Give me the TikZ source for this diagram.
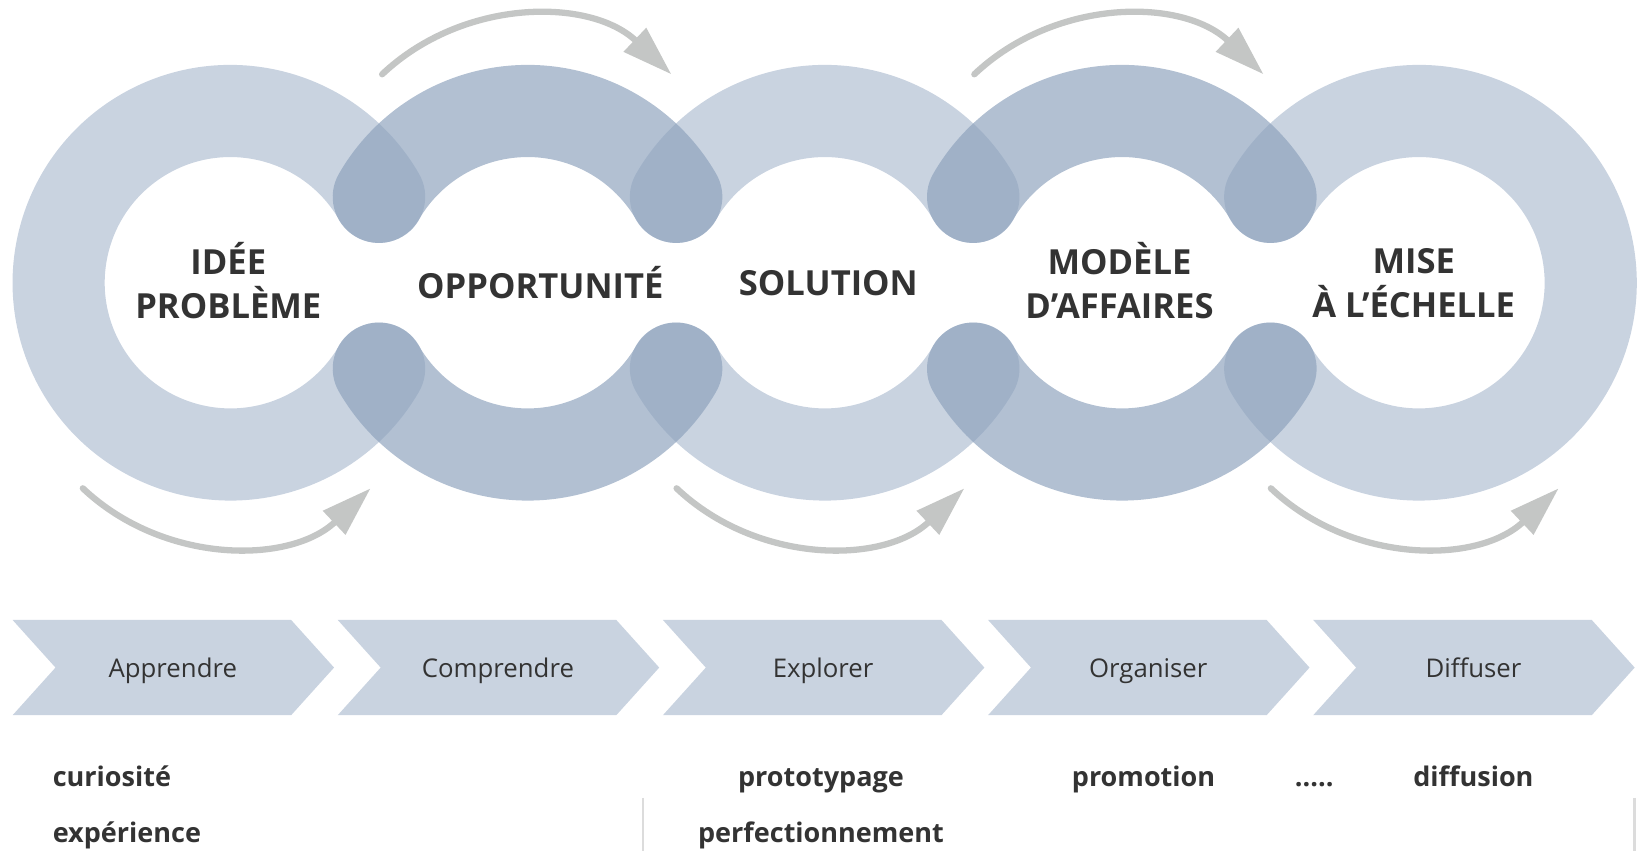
\documentclass[tikz,border=0pt]{standalone}
\usepackage{fontspec}
\setmainfont{Open Sans}
\usetikzlibrary{arrows.meta}
\definecolor{ringlight}{HTML}{C9D3E0}
\definecolor{ringdark}{RGB}{140,161,188}
\definecolor{arrowgray}{HTML}{C4C6C5}
\definecolor{textdark}{HTML}{333333}
\definecolor{rulegray}{HTML}{DCDCDC}

\begin{document}
\begin{tikzpicture}[x=0.5pt,y=0.5pt,
    lightring/.style={draw=ringlight,line width=44pt,line cap=round},
    darkring/.style={draw=ringdark,draw opacity=0.67,line width=44pt,line cap=round},
    cyclearrow/.style={draw=arrowgray,line width=3pt,line cap=round,-{Triangle[length=24pt,width=15pt]}},
    phasetitle/.style={font=\fontsize{16.5}{21}\selectfont\bfseries,text=textdark,align=center},
    stagelabel/.style={font=\fontsize{12.3}{14}\selectfont,text=textdark,anchor=base},
    keyword/.style={font=\fontsize{12.9}{15}\selectfont\bfseries,text=textdark,anchor=base,inner sep=0pt}]
    \useasboundingbox (0,0) rectangle (1568,813);

    \draw[lightring] (220,543) ++(30:164) arc[start angle=30,end angle=330,radius=164];
    \draw[lightring] (787.5,543) ++(150:164) arc[start angle=150,end angle=30,radius=164];
    \draw[lightring] (787.5,543) ++(210:164) arc[start angle=210,end angle=330,radius=164];
    \draw[lightring] (1355,543) ++(150:164) arc[start angle=150,end angle=-150,radius=164];
    \foreach \cx in {503.75,1071.25} {
        \draw[darkring] (\cx,543) ++(150:164) arc[start angle=150,end angle=30,radius=164];
        \draw[darkring] (\cx,543) ++(210:164) arc[start angle=210,end angle=330,radius=164];
    }

    \foreach \cx in {503,1068.5}
        \draw[cyclearrow] (\cx,596) ++(133.4:201) arc[start angle=133.4,end angle=46.6,radius=201];
    \foreach \cx in {216.5,783.5,1351}
        \draw[cyclearrow] (\cx,492) ++(226.6:200) arc[start angle=226.6,end angle=313.4,radius=200];

    \node[phasetitle] (idee) at (218,545) {IDÉE\\PROBLÈME};
    \node[phasetitle] (opportunite) at (516,543) {OPPORTUNITÉ};
    \node[phasetitle] (solution) at (791,543) {SOLUTION};
    \node[phasetitle] (modele) at (1069,545) {MODÈLE\\D’AFFAIRES};
    \node[phasetitle] (echelle) at (1350,543) {MISE\\À L’ÉCHELLE};

    \foreach \i/\txt in {0/Apprendre,1/Comprendre,2/Explorer,3/Organiser,4/Diffuser} {
        \fill[ringlight] ({12+310.5*\i},221) -- ++(266,0) -- ++(41,-45.5) -- ++(-41,-45.5) -- ++(-266,0) -- ++(41,45.5) -- cycle;
        \node[stagelabel] (stage\i) at ({165+310.5*\i},166) {\txt};
    }

    \node[keyword,anchor=base west] (curiosite) at (50,62) {curiosité};
    \node[keyword,anchor=base west] (experience) at (50,8.5) {expérience};
    \node[keyword] (prototypage) at (784,62) {prototypage};
    \node[keyword] (perfectionnement) at (784,8.5) {perfectionnement};
    \node[keyword] (promotion) at (1092,62) {promotion};
    \node[keyword] (etc) at (1255,62) {.....};
    \node[keyword] (diffusion) at (1407,62) {diffusion};

    \draw[rulegray,line width=1.2pt] (614,51) -- (614,0);
    \draw[rulegray,line width=1.2pt] (1561,51) -- (1561,0);
\end{tikzpicture}
\end{document}
